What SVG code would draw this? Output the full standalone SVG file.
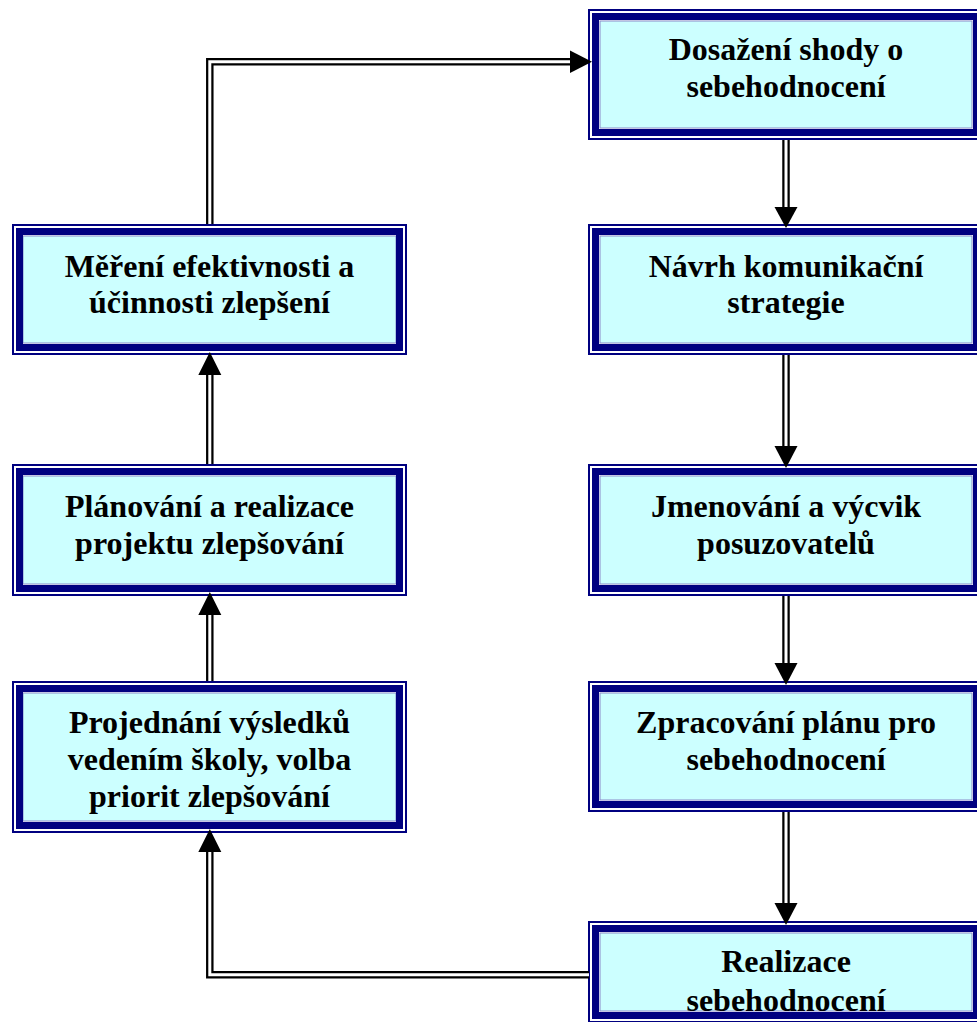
<svg xmlns="http://www.w3.org/2000/svg" width="977" height="1022" viewBox="0 0 977 1022">
  <style>
    .fill { fill: #ccffff; stroke: #8a8ac8; stroke-width: 1; }
    .band { fill: none; stroke: #000080; stroke-width: 7; }
    .outer { fill: none; stroke: #000080; stroke-width: 2; }
    .t { font-family: "Liberation Serif", "Times New Roman", serif; font-weight: bold; font-size: 32px; text-anchor: middle; fill: #000; }
    .rail { fill: none; stroke: #000; stroke-width: 7.5; stroke-linejoin: miter; }
    .gap { fill: none; stroke: #fff; stroke-width: 3; stroke-linejoin: miter; }
    .head { fill: #000; }
  </style>
  <rect width="977" height="1022" fill="#fff"/>

  <!-- Right column -->
  <g id="node-shoda">
    <rect class="fill" x="600" y="21" width="372" height="107"/>
    <text class="t" x="786" y="60">Dosažení shody o</text>
    <text class="t" x="786" y="97">sebehodnocení</text>
    <rect class="band" x="595.5" y="16.5" width="381" height="116"/>
    <rect class="outer" x="589" y="10" width="394" height="129"/>
  </g>
  <g id="node-komunikace">
    <rect class="fill" x="600" y="236" width="372" height="107"/>
    <text class="t" x="786" y="277">Návrh komunikační</text>
    <text class="t" x="786" y="313">strategie</text>
    <rect class="band" x="595.5" y="231.5" width="381" height="116"/>
    <rect class="outer" x="589" y="225" width="394" height="129"/>
  </g>
  <g id="node-posuzovatele">
    <rect class="fill" x="600" y="476" width="372" height="108"/>
    <text class="t" x="786" y="517">Jmenování a výcvik</text>
    <text class="t" x="786" y="554">posuzovatelů</text>
    <rect class="band" x="595.5" y="471.5" width="381" height="117"/>
    <rect class="outer" x="589" y="465" width="394" height="130"/>
  </g>
  <g id="node-plan">
    <rect class="fill" x="600" y="693" width="372" height="107"/>
    <text class="t" x="786" y="733">Zpracování plánu pro</text>
    <text class="t" x="786" y="770">sebehodnocení</text>
    <rect class="band" x="595.5" y="688.5" width="381" height="116"/>
    <rect class="outer" x="589" y="682" width="394" height="129"/>
  </g>
  <g id="node-realizace">
    <rect class="fill" x="600" y="933" width="372" height="78"/>
    <text class="t" x="786" y="972">Realizace</text>
    <text class="t" x="786" y="1011">sebehodnocení</text>
    <rect class="band" x="595.5" y="928.5" width="381" height="87"/>
    <rect class="outer" x="589" y="922" width="394" height="100"/>
  </g>

  <!-- Left column -->
  <g id="node-mereni">
    <rect class="fill" x="23" y="236" width="373" height="107"/>
    <text class="t" x="209.5" y="277">Měření efektivnosti a</text>
    <text class="t" x="209.5" y="313">účinnosti zlepšení</text>
    <rect class="band" x="19.5" y="231.5" width="380" height="116"/>
    <rect class="outer" x="13" y="225" width="393" height="129"/>
  </g>
  <g id="node-projekt">
    <rect class="fill" x="23" y="476" width="373" height="108"/>
    <text class="t" x="209.5" y="517">Plánování a realizace</text>
    <text class="t" x="209.5" y="554">projektu zlepšování</text>
    <rect class="band" x="19.5" y="471.5" width="380" height="117"/>
    <rect class="outer" x="13" y="465" width="393" height="130"/>
  </g>
  <g id="node-projednani">
    <rect class="fill" x="23" y="693" width="373" height="128"/>
    <text class="t" x="209.5" y="733">Projednání výsledků</text>
    <text class="t" x="209.5" y="770">vedením školy, volba</text>
    <text class="t" x="209.5" y="807">priorit zlepšování</text>
    <rect class="band" x="19.5" y="688.5" width="380" height="137"/>
    <rect class="outer" x="13" y="682" width="393" height="150"/>
  </g>

  <!-- Double-line connectors -->
  <g id="connectors">
    <path class="rail" d="M209.8 224 V61.8 H572"/>
    <path class="gap" d="M209.8 224 V61.8 H572"/>
    <polygon class="head" points="570,50.5 592,61.8 570,73"/>

    <path class="rail" d="M786 140 V208"/>
    <path class="gap" d="M786 140 V208"/>
    <polygon class="head" points="774.5,207 797.5,207 786,228"/>

    <path class="rail" d="M786 355 V447"/>
    <path class="gap" d="M786 355 V447"/>
    <polygon class="head" points="774.5,446 797.5,446 786,468"/>

    <path class="rail" d="M786 596 V664"/>
    <path class="gap" d="M786 596 V664"/>
    <polygon class="head" points="774.5,663 797.5,663 786,685"/>

    <path class="rail" d="M786 812 V904"/>
    <path class="gap" d="M786 812 V904"/>
    <polygon class="head" points="774.5,903 797.5,903 786,925"/>

    <path class="rail" d="M209.8 464 V374"/>
    <path class="gap" d="M209.8 464 V374"/>
    <polygon class="head" points="198.3,375 221.3,375 209.8,352"/>

    <path class="rail" d="M209.8 681 V614"/>
    <path class="gap" d="M209.8 681 V614"/>
    <polygon class="head" points="198.3,615 221.3,615 209.8,592"/>

    <path class="rail" d="M589 974.8 H209.8 V851"/>
    <path class="gap" d="M589 974.8 H209.8 V851"/>
    <polygon class="head" points="198.3,852 221.3,852 209.8,829"/>
  </g>
</svg>
